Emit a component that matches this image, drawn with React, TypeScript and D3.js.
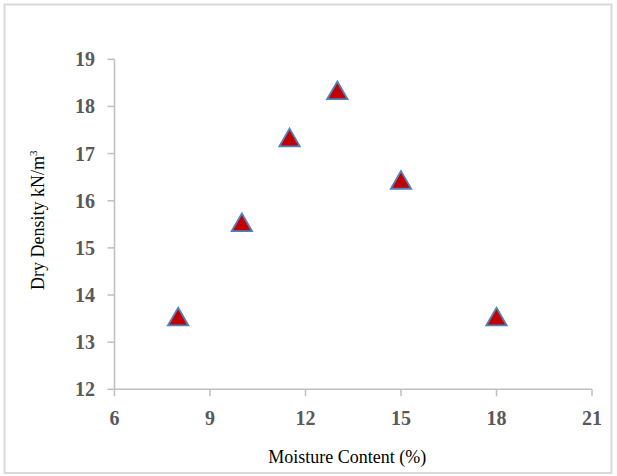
import React from "react";
import * as d3 from "d3";

const moisture = [8, 10, 11.5, 13, 15, 18];
const dryDensity = [13.5, 15.5, 17.3, 18.3, 16.4, 13.5];
const xTicks = [6, 9, 12, 15, 18, 21];
const yTicks = [12, 13, 14, 15, 16, 17, 18, 19];

const W = 617;
const H = 476;
const left = 114.5;
const right = 592;
const top = 59.3;
const bottom = 389.3;

export default function App() {
  const x = d3.scaleLinear().domain([6, 21]).range([left, right]);
  const y = d3.scaleLinear().domain([12, 19]).range([bottom, top]);
  const tri = d3.symbol().type(d3.symbolTriangle).size(180)();
  const font = "Liberation Serif";
  const axisColor = "#bfbfbf";
  return (
    <svg
      width={W}
      height={H}
      style={{ position: "absolute", left: 0, top: 0, background: "#fff" }}
    >
      <rect x={4.5} y={4.5} width={607} height={468.5} fill="#fff" stroke="#d9d9d9" strokeWidth={2} />
      <line x1={left} x2={left} y1={top} y2={bottom} stroke={axisColor} strokeWidth={1.5} />
      <line x1={left} x2={right} y1={bottom} y2={bottom} stroke={axisColor} strokeWidth={1.5} />
      {yTicks.map((t) => (
        <g key={"y" + t}>
          <line x1={left - 7} x2={left} y1={y(t)} y2={y(t)} stroke={axisColor} strokeWidth={1.5} />
          <text
            x={95}
            y={y(t)}
            dy="0.35em"
            textAnchor="end"
            style={{ fontFamily: font, fontWeight: 700, fontSize: "20px" }}
            fill="#595959"
          >
            {t}
          </text>
        </g>
      ))}
      {xTicks.map((t) => (
        <g key={"x" + t}>
          <line x1={x(t)} x2={x(t)} y1={bottom} y2={bottom + 7} stroke={axisColor} strokeWidth={1.5} />
          <text
            x={x(t)}
            y={425}
            textAnchor="middle"
            style={{ fontFamily: font, fontWeight: 700, fontSize: "20px" }}
            fill="#595959"
          >
            {t}
          </text>
        </g>
      ))}
      <text
        x={(left + right) / 2 - 6}
        y={463}
        textAnchor="middle"
        style={{ fontFamily: font, fontSize: "18px" }}
        fill="#000"
      >
        Moisture Content (%)
      </text>
      <text
        transform={`translate(44, ${(top + bottom) / 2 - 4}) rotate(-90)`}
        textAnchor="middle"
        style={{ fontFamily: font, fontSize: "18px" }}
        fill="#000"
      >
        Dry Density kN/m
        <tspan dy="-7" style={{ fontSize: "11px" }}>3</tspan>
      </text>
      {moisture.map((m, i) => (
        <path
          key={"p" + i}
          d={tri as string}
          transform={`translate(${x(m)}, ${y(dryDensity[i]) + 1})`}
          fill="#c00000"
          stroke="#4f81bd"
          strokeWidth={1.8}
        />
      ))}
    </svg>
  );
}
